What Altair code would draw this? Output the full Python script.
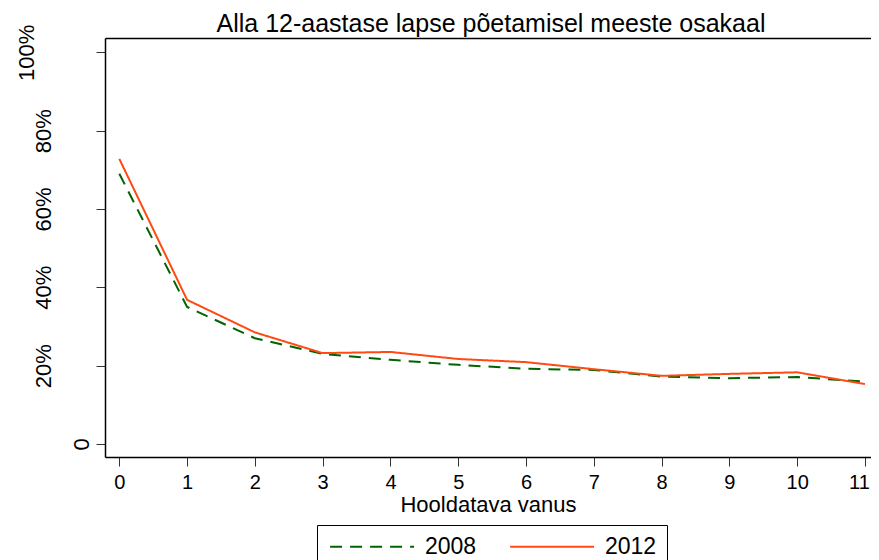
import altair as alt
import pandas as pd

ages = list(range(12))
share_2008 = [69.0, 35.0, 27.0, 23.0, 21.5, 20.2, 19.2, 18.9, 17.2, 16.8, 17.1, 15.9]
share_2012 = [72.8, 36.8, 28.5, 23.2, 23.5, 21.7, 20.9, 19.1, 17.4, 17.9, 18.3, 15.3]
years = ["2008", "2012"]
y_ticks = [0, 20, 40, 60, 80, 100]

rows = []
for a, v in zip(ages, share_2008):
    rows.append({"age": a, "value": v, "year": "2008"})
for a, v in zip(ages, share_2012):
    rows.append({"age": a, "value": v, "year": "2012"})
df = pd.DataFrame(rows)

FONT = "Liberation Sans"
GREEN = "#006400"
ORANGE = "#FF4A14"

xscale = alt.Scale(domain=[-0.211, 11.089], nice=False, zero=False)
yscale = alt.Scale(domain=[-3.32, 103.65], nice=False, zero=False)

y_axis = alt.Axis(
    values=y_ticks,
    labelExpr="datum.value == 0 ? '0' : datum.value + '%'",
    title=None,
    labelFont=FONT,
    labelFontSize=22,
    labelColor="black",
    labelAngle=270,
    labelAlign="center",
    labelBaseline="alphabetic",
    labelPadding={
        "condition": [
            {"test": "datum.value == 0", "value": 8},
            {"test": "datum.value == 100", "value": 63},
        ],
        "value": 46,
    },
    tickSize=9,
    tickColor="#333333",
    tickWidth=1,
    domainColor="black",
    domainWidth=1.5,
    grid=False,
)

base = alt.Chart(df)

lines = base.mark_line(strokeWidth=2, clip=True).encode(
    x=alt.X(
        "age:Q",
        scale=xscale,
        axis=alt.Axis(
            values=ages,
            format="d",
            title="Hooldatava vanus",
            titleFont=FONT,
            titleFontSize=22,
            titleFontWeight="normal",
            titleColor="black",
            titlePadding=2,
            labelFont=FONT,
            labelFontSize=20,
            labelColor="black",
            labelPadding=6,
            labelOffset={
                "condition": {"test": "datum.value == 11", "value": -6},
                "value": 0,
            },
            tickSize=9,
            tickColor="#333333",
            tickWidth=1,
            domainColor="black",
            domainWidth=1.5,
            grid=False,
        ),
    ),
    y=alt.Y("value:Q", scale=yscale, axis=y_axis),
    color=alt.Color(
        "year:N",
        scale=alt.Scale(domain=years, range=[GREEN, ORANGE]),
        legend=alt.Legend(title=None),
    ),
    strokeDash=alt.StrokeDash(
        "year:N",
        scale=alt.Scale(domain=years, range=[[12, 8], [1, 0]]),
        legend=alt.Legend(title=None),
    ),
)

top_axis = base.mark_line(opacity=0).encode(
    x=alt.X(
        "age:Q",
        scale=xscale,
        axis=alt.Axis(
            orient="top",
            labels=False,
            ticks=False,
            title=None,
            domainColor="black",
            domainWidth=1.5,
            grid=False,
            minExtent=0,
            maxExtent=0,
        ),
    ),
    y=alt.Y("value:Q", scale=yscale, axis=y_axis),
)

chart = (
    alt.layer(lines, top_axis)
    .resolve_axis(x="independent")
    .properties(
        width=766,
        height=419,
        padding={"left": 97, "top": 30, "right": 0, "bottom": 103},
        autosize=alt.AutoSizeParams(type="none"),
        title=alt.TitleParams(
            "Alla 12-aastase lapse põetamisel meeste osakaal",
            font=FONT,
            fontSize=25,
            fontWeight="normal",
            color="black",
            anchor="middle",
            baseline="alphabetic",
            offset=-17,
            dx=3,
            dy=16,
        ),
    )
    .configure_view(stroke=None)
    .configure_legend(
        orient="none",
        legendX=212,
        legendY=487,
        direction="horizontal",
        strokeColor="black",
        strokeWidth=1,
        fillColor="white",
        padding=10,
        cornerRadius=0,
        labelFont=FONT,
        labelFontSize=23,
        labelColor="black",
        labelOffset=75,
        columnPadding=29,
        symbolType="M-1,0L9,0",
        symbolSize=282,
        symbolStrokeWidth=2,
        symbolFillColor="transparent",
    )
)

chart.save("out.html", embed_options={"renderer": "svg", "actions": False})
